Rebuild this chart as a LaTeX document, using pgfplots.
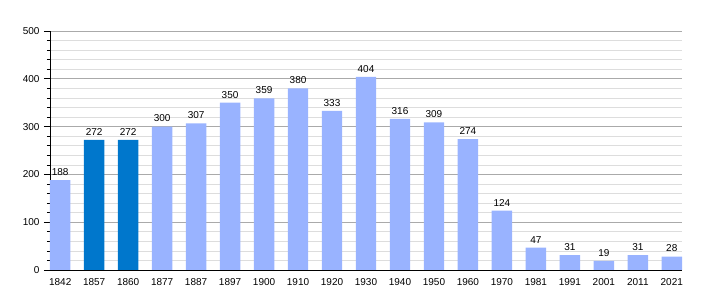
\documentclass[border=0pt]{standalone}
\usepackage{pgfplots}
\pgfplotsset{compat=1.18}
\usepackage{fontspec}
\setmainfont{Liberation Sans}
\definecolor{lightbar}{RGB}{153,179,255}
\definecolor{darkbar}{RGB}{0,119,204}
\definecolor{majgrid}{RGB}{170,170,170}
\definecolor{mingrid}{RGB}{221,221,221}
\begin{document}
\begin{tikzpicture}[x=1pt,y=1pt]
\path[use as bounding box] (-50,-30) rectangle (660,270);
\begin{axis}[
  at={(0,0)}, anchor=south west,
  width=632pt, height=239pt, scale only axis,
  xmin=-0.3, xmax=18.3, ymin=0, ymax=500,
  axis x line*=bottom, axis y line*=left,
  axis line style={black, line width=0.8pt, -},
  xtick={0,...,18},
  xticklabels={1842,1857,1860,1877,1887,1897,1900,1910,1920,1930,1940,1950,1960,1970,1981,1991,2001,2011,2021},
  x tick style={draw=none},
  ytick={0,100,...,500},
  minor y tick num=4,
  y tick style={black, line width=0.6pt},
  major tick length=6pt, minor tick length=3pt,
  tick align=outside,
  ymajorgrids, yminorgrids,
  major grid style={majgrid, line width=0.6pt},
  minor grid style={mingrid, line width=0.6pt},
  tick label style={font=\fontsize{10}{12}\selectfont},
  /pgf/number format/assume math mode=true,
  yticklabel style={xshift=-1pt},
  xticklabel style={yshift=1pt},
  ybar, bar width=0.6, bar shift=0pt,
  nodes near coords,
  every node near coord/.append style={font=\fontsize{10}{12}\selectfont, black, yshift=1pt},
  clip=false,
]
\addplot[fill=lightbar, draw=none] coordinates {
(0,188) (3,300) (4,307) (5,350) (6,359) (7,380) (8,333) (9,404) (10,316) (11,309) (12,274) (13,124) (14,47) (15,31) (16,19) (17,31) (18,28)
};
\addplot[fill=darkbar, draw=none] coordinates {
(1,272) (2,272)
};
\end{axis}
\end{tikzpicture}
\end{document}
